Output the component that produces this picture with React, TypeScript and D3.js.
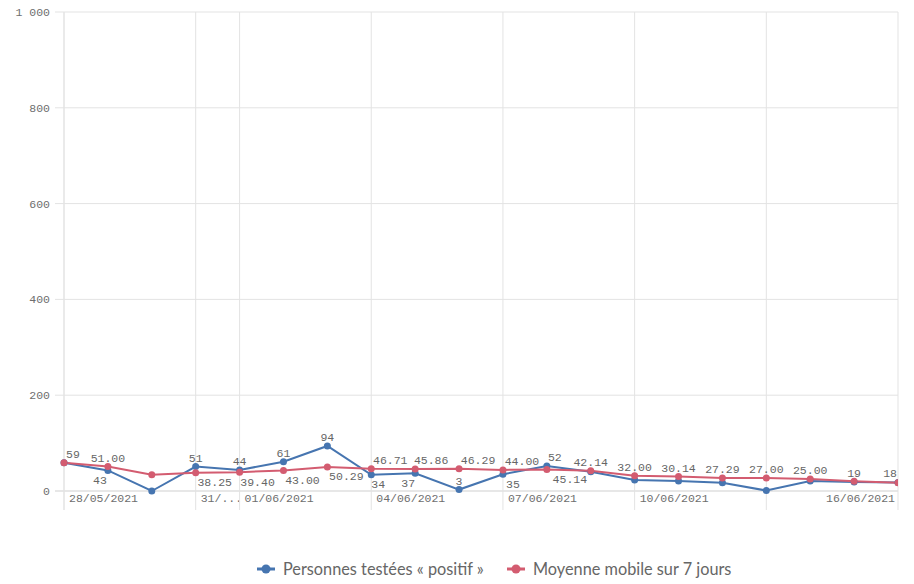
import React from "react";
import * as d3 from "d3";

const dates = [
  "28/05/2021", "29/05/2021", "30/05/2021", "31/05/2021", "01/06/2021",
  "02/06/2021", "03/06/2021", "04/06/2021", "05/06/2021", "06/06/2021",
  "07/06/2021", "08/06/2021", "09/06/2021", "10/06/2021", "11/06/2021",
  "12/06/2021", "13/06/2021", "14/06/2021", "15/06/2021", "16/06/2021",
];
const positifs = [59, 43, 0, 51, 44, 61, 94, 34, 37, 3, 35, 52, 40, 23, 21, 17, 1, 21, 19, 18];
const moyenne = [59, 51.0, 34.0, 38.25, 39.4, 43.0, 50.29, 46.71, 45.86, 46.29, 44.0, 45.14, 42.14, 32.0, 30.14, 27.29, 27.0, 25.0, 20.29, 17.14];
// label placement: a = above, b = below, "" = hidden
const positifsLabelPos = ["a", "b", "", "a", "a", "a", "a", "b", "b", "a", "b", "a", "", "", "", "", "", "", "a", "a"];
const moyenneLabelPos = ["", "a", "", "b", "b", "b", "b", "a", "a", "a", "a", "b", "a", "a", "a", "a", "a", "a", "", ""];
// horizontal nudges from the label collision avoidance
const positifsLabelNudge = [0, -8, 0, 0, 0, 0, 0, 7, -7, 0, 10, 8, 0, 0, 0, 0, 0, 0, 0, 0];
const moyenneLabelNudge = [0, 0, 0, 19, 18, 19, 19, 19, 16, 19, 19, 23, 0, 0, 0, 0, 0, 0, 0, 0];
const tickIndices = [0, 3, 4, 7, 10, 13, 16, 19];
const tickLabels = ["28/05/2021", "31/...", "01/06/2021", "04/06/2021", "07/06/2021", "10/06/2021", "", "16/06/2021"];
const yTicks = [0, 200, 400, 600, 800, 1000];
const seriesNames = ["Personnes testées « positif »", "Moyenne mobile sur 7 jours"];

const BLUE = "#4675b0";
const RED = "#d35c70";
const MONO = "'Liberation Mono', 'DejaVu Sans Mono', monospace";
const CHAR_W = 6.9;

export default function App() {
  const W = 914, H = 584;
  const left = 64, right = 898, top = 12, bottom = 491;
  const x = d3.scaleLinear().domain([0, dates.length - 1]).range([left, right]);
  const y = d3.scaleLinear().domain([0, 1000]).range([bottom, top]);
  const line = d3.line<number>().x((_, i) => x(i)).y((d) => y(d));
  const fmtY = (v: number) => d3.format(",")(v).replace(/,/g, " ");

  const labelX = (i: number, text: string, nudge: number) => {
    const w = text.length * CHAR_W;
    let cx = x(i) + nudge;
    if (cx - w / 2 < left + 2) cx = left + 2 + w / 2;
    if (cx + w / 2 > right - 1) cx = right - 1 - w / 2;
    return cx;
  };

  const renderLabels = (vals: number[], pos: string[], nudges: number[], fmt: (v: number) => string) =>
    vals.map((v, i) => {
      if (!pos[i]) return null;
      const t = fmt(v);
      const yy = pos[i] === "a" ? y(v) - 9 : y(v) + 9.5;
      return (
        <text key={i} x={labelX(i, t, nudges[i])} y={yy} dy="0.35em" textAnchor="middle"
          fontFamily={MONO} fontSize={11.5} fill="#666">{t}</text>
      );
    });

  return (
    <svg width={W} height={H} style={{ position: "absolute", left: 0, top: 0, background: "#fff" }}>
      <defs>
        <clipPath id="plotclip">
          <rect x={left - 6} y={top - 6} width={right - left + 6} height={bottom - top + 12} />
        </clipPath>
      </defs>
      {yTicks.map((t) => (
        <g key={t}>
          <line x1={55} x2={right} y1={y(t)} y2={y(t)} stroke={t === 0 ? "#cfcfcf" : "#e3e3e3"} strokeWidth={1} />
          <text x={50} y={y(t)} dy="0.35em" textAnchor="end" fontFamily={MONO} fontSize={11.5} fill="#6e6e6e">{fmtY(t)}</text>
        </g>
      ))}
      {tickIndices.map((ti, k) => {
        const t = tickLabels[k];
        const w = t.length * CHAR_W;
        let tx = x(ti) + 5;
        if (tx + w > right - 2) tx = right - 3 - w;
        return (
          <g key={ti}>
            <line x1={x(ti)} x2={x(ti)} y1={top} y2={510} stroke="#e3e3e3" strokeWidth={ti === 0 ? 1.5 : 1} />
            {t && (
              <text x={tx} y={498} dy="0.35em" textAnchor="start" fontFamily={MONO} fontSize={11.5} fill="#6e6e6e">{t}</text>
            )}
          </g>
        );
      })}
      <g clipPath="url(#plotclip)">
        <path d={line(positifs) || ""} fill="none" stroke={BLUE} strokeWidth={2} />
        <path d={line(moyenne) || ""} fill="none" stroke={RED} strokeWidth={2} />
        {positifs.map((v, i) => <circle key={"b" + i} cx={x(i)} cy={y(v)} r={3.5} fill={BLUE} />)}
        {moyenne.map((v, i) => <circle key={"r" + i} cx={x(i)} cy={y(v)} r={3.5} fill={RED} />)}
      </g>
      {renderLabels(positifs, positifsLabelPos, positifsLabelNudge, (v) => String(v))}
      {renderLabels(moyenne, moyenneLabelPos, moyenneLabelNudge, (v) => v.toFixed(2))}
      {[{ c: BLUE, x0: 257, tx: 283 }, { c: RED, x0: 507, tx: 533 }].map((l, k) => (
        <g key={k}>
          <line x1={l.x0} x2={l.x0 + 18} y1={569} y2={569} stroke={l.c} strokeWidth={3} />
          <circle cx={l.x0 + 9} cy={569} r={4.5} fill={l.c} />
          <text x={l.tx} y={569} dy="0.35em" fontFamily="Lato, sans-serif" fontSize={16.3} fill="#666">{seriesNames[k]}</text>
        </g>
      ))}
    </svg>
  );
}
